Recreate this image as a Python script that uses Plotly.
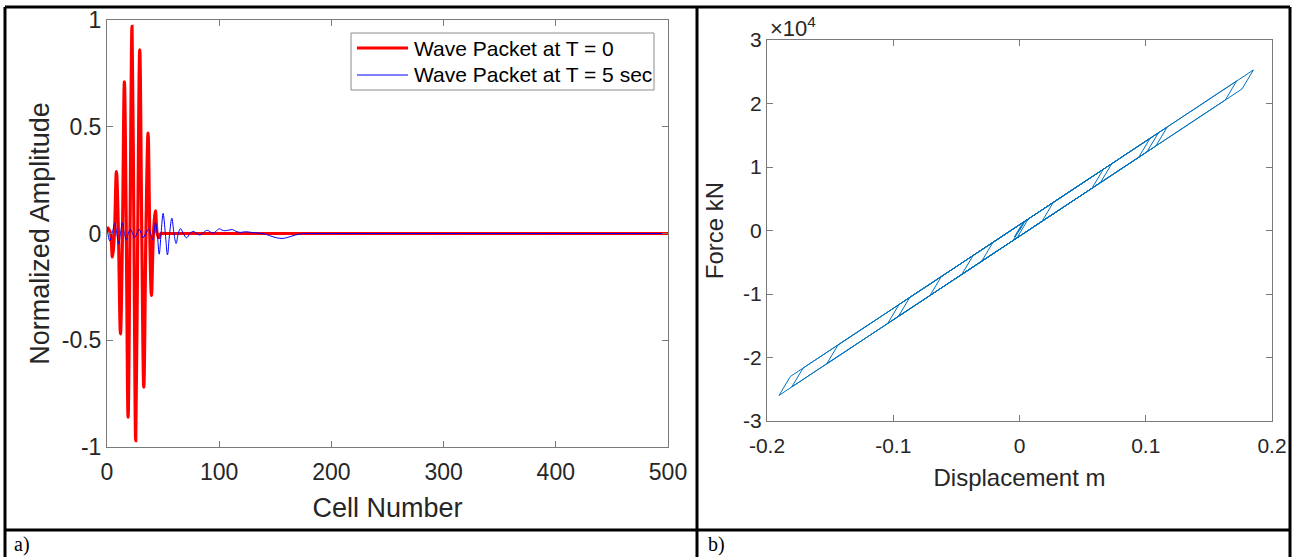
import plotly.graph_objects as go

W, H = 1295, 557

# ---------------- panel a) data ----------------
red_x = [0, 1.5, 3.2, 4.8, 6.6, 8.4, 10.2, 12.0, 13.8, 15.5, 17.2, 18.8, 20.5, 22.3, 24.0,
         25.6, 27.4, 29.2, 31.0, 32.8, 34.7, 36.6, 38.1, 39.6, 41.4, 43.2, 44.7, 46.2, 48.0,
         52.0, 500]
red_y = [0.03, 0.02, 0.0, -0.11, 0.0, 0.29, 0.0, -0.47, 0.0, 0.71, 0.0, -0.86, 0.0, 0.97, 0.0,
         -0.97, 0.0, 0.86, 0.0, -0.72, 0.0, 0.47, 0.0, -0.29, 0.0, 0.106, 0.0, -0.02, 0.0,
         0.0, 0.0]

blue_x = [0, 2.4, 4.6, 6.9, 8.7, 10.4, 12, 13.7, 15.5, 17.3, 19, 20.9, 22.8, 24.7, 26.6, 28.6,
          30.4, 32.1, 34.5, 37, 38.8, 40.5, 41.8, 43.2, 44.8, 46.5, 48.2, 50, 52, 53.9, 55.8,
          57.8, 59.7, 61.6, 63.5, 65.5, 68, 70.9, 74, 76.8, 80, 82.8, 86, 89.3, 92, 94.6, 97,
          100, 102.5, 105, 108.5, 112, 115, 118.5, 121.5, 124.5, 130, 139, 145, 151, 157, 163,
          168, 174, 180, 500]
blue_y = [0.028, -0.034, 0.0, 0.047, 0.0, -0.05, 0.0, 0.05, 0.0, -0.03, 0.0, 0.02, 0.0, -0.02,
          0.0, 0.02, 0.0, -0.02, 0.0, 0.02, 0.0, -0.03, 0.0, 0.05, 0.0, -0.097, 0.0, 0.094, 0.0,
          -0.1, 0.0, 0.072, 0.0, -0.047, 0.0, 0.023, 0.0, -0.02, 0.0, 0.01, 0.0, -0.007, 0.005,
          0.015, 0.008, 0.002, 0.01, 0.022, 0.016, 0.013, 0.016, 0.018, 0.01, 0.005, 0.007,
          0.008, 0.004, 0.0, -0.01, -0.02, -0.023, -0.015, -0.007, 0.0, 0.0, 0.0]

series_names = ["Wave Packet at T = 0", "Wave Packet at T = 5 sec"]
a_xticks = [0, 100, 200, 300, 400, 500]
a_yticks = [-1, -0.5, 0, 0.5, 1]
a_yticktext = ["-1", "-0.5", "0", "0.5", "1"]

# ---------------- panel b) data ----------------
hyst_disp = [0, 0.0045, 0.007, -0.002, -0.005, 0.004, 0.0268, 0.0178, -0.0457, -0.0367,
             0.0731, 0.0641, -0.0709, -0.0619, 0.1034, 0.0944, -0.1044, -0.0954, 0.117, 0.108,
             -0.1527, -0.1437, 0.172, 0.163, -0.1905, -0.1815, 0.1853, 0.1763, -0.1804,
             -0.1714, 0.110, 0.101, -0.0959, -0.0869, 0.0664, 0.0574, -0.030, -0.021, 0.003,
             -0.004, 0.002, -0.003, 0.001]
hyst_force = [0, 1490, 1820, -1160, -1560, 1430, 4430, 1440, -6910, -3930,
              10520, 7540, -10230, -7250, 14510, 11520, -14640, -11650, 16300, 13310,
              -21000, -18010, 23540, 20550, -25970, -22990, 25290, 22300, -24640,
              -21660, 15380, 12390, -13520, -10540, 9640, 6650, -4850, -1860, 1290,
              -1040, 960, -700, 630]

b_xticks = [-0.2, -0.1, 0, 0.1, 0.2]
b_xticktext = ["-0.2", "-0.1", "0", "0.1", "0.2"]
b_yticks = [-30000, -20000, -10000, 0, 10000, 20000, 30000]
b_yticktext = ["-3", "-2", "-1", "0", "1", "2", "3"]

FONT = "Liberation Sans, Arial, Helvetica, sans-serif"
TXT = "#262626"
AX = "#7a7a7a"
RED = "#ff0000"
BLUE = "#0000ff"

fig = go.Figure()
fig.add_trace(go.Scatter(x=red_x, y=red_y, mode="lines", name=series_names[0], showlegend=False,
                         line=dict(color=RED, width=3.2, shape="spline", smoothing=1),
                         xaxis="x", yaxis="y"))
fig.add_trace(go.Scatter(x=blue_x, y=blue_y, mode="lines", name=series_names[1], showlegend=False,
                         line=dict(color=BLUE, width=1, shape="spline", smoothing=1),
                         xaxis="x", yaxis="y"))
fig.add_trace(go.Scatter(x=hyst_disp, y=hyst_force, mode="lines", showlegend=False,
                         line=dict(color="#0072BD", width=1),
                         xaxis="x2", yaxis="y2"))


def px(v):
    return v / W


def py(v):
    return 1 - v / H


common = dict(showline=True, linecolor=AX, linewidth=1, mirror="ticks", ticks="inside",
              ticklen=6, tickcolor=AX, showgrid=False, zeroline=False, automargin=False,
              tickfont=dict(family=FONT, size=23, color=TXT))
small = {**common, "tickfont": dict(family=FONT, size=21, color=TXT)}

fig.update_layout(
    width=W, height=H, margin=dict(l=0, r=0, t=0, b=0, autoexpand=False),
    paper_bgcolor="white", plot_bgcolor="white", showlegend=False,
    font=dict(family=FONT, color=TXT),
    xaxis=dict(domain=[px(107), px(668)], range=[0, 500], tickvals=a_xticks,
               ticklabelstandoff=4,
               title=dict(text="Cell Number", font=dict(size=27, color=TXT), standoff=14),
               anchor="y", **common),
    yaxis=dict(domain=[py(447), py(20)], range=[-1, 1], tickvals=a_yticks,
               ticktext=a_yticktext,
               title=dict(text="Normalized Amplitude", font=dict(size=27, color=TXT), standoff=4),
               anchor="x", **common),
    xaxis2=dict(domain=[px(767), px(1272)], range=[-0.2, 0.2], tickvals=b_xticks,
                ticktext=b_xticktext, ticklabelstandoff=6,
                title=dict(text="Displacement m", font=dict(size=24, color=TXT), standoff=12),
                anchor="y2", **small),
    yaxis2=dict(domain=[py(421), py(40)], range=[-30000, 30000], tickvals=b_yticks,
                ticktext=b_yticktext,
                title=dict(text="Force kN", font=dict(size=24, color=TXT), standoff=12),
                anchor="x2", **small),
)

# legend box for panel a (drawn to match the reference legend geometry)
fig.add_shape(type="rect", xref="paper", yref="paper", x0=px(351), y0=py(33), x1=px(654),
              y1=py(90), line=dict(color="#8c8c8c", width=1), fillcolor="white", layer="above")
for name, col, wid, yy in ((series_names[0], RED, 3.2, 48), (series_names[1], BLUE, 1, 75)):
    fig.add_shape(type="line", xref="paper", yref="paper", x0=px(357), x1=px(408),
                  y0=py(yy), y1=py(yy), line=dict(color=col, width=wid), layer="above")
    fig.add_annotation(x=px(412), y=py(yy), xref="paper", yref="paper", xanchor="left",
                       yanchor="middle", showarrow=False, text=name,
                       font=dict(family=FONT, size=21, color="#000000"))

# x10^4 exponent label for panel b
fig.add_annotation(x=px(768), y=py(27), xref="paper", yref="paper", xanchor="left",
                   yanchor="middle", showarrow=False, text="×10<sup>4</sup>",
                   font=dict(family=FONT, size=22, color=TXT))

# table borders
LW = 3
lines = [
    (5, 7, 1290, 7),
    (5, 7, 5, 560),
    (1290, 7, 1290, 560),
    (697, 7, 697, 560),
    (5, 530, 1290, 530),
]
for x0, y0, x1, y1 in lines:
    fig.add_shape(type="line", xref="paper", yref="paper", x0=px(x0), y0=py(y0),
                  x1=px(x1), y1=py(y1), line=dict(color="black", width=LW))

# cell captions
for lab, xx in (("a)", 12), ("b)", 706)):
    fig.add_annotation(x=px(xx), y=py(544), xref="paper", yref="paper", xanchor="left",
                       yanchor="middle", showarrow=False, text=lab,
                       font=dict(family="Liberation Serif, Times New Roman, serif", size=20,
                                 color="black"))

fig.write_html("out.html", config={"displayModeBar": False},
               post_script="document.body.style.margin='0';document.body.style.overflow='hidden';")
